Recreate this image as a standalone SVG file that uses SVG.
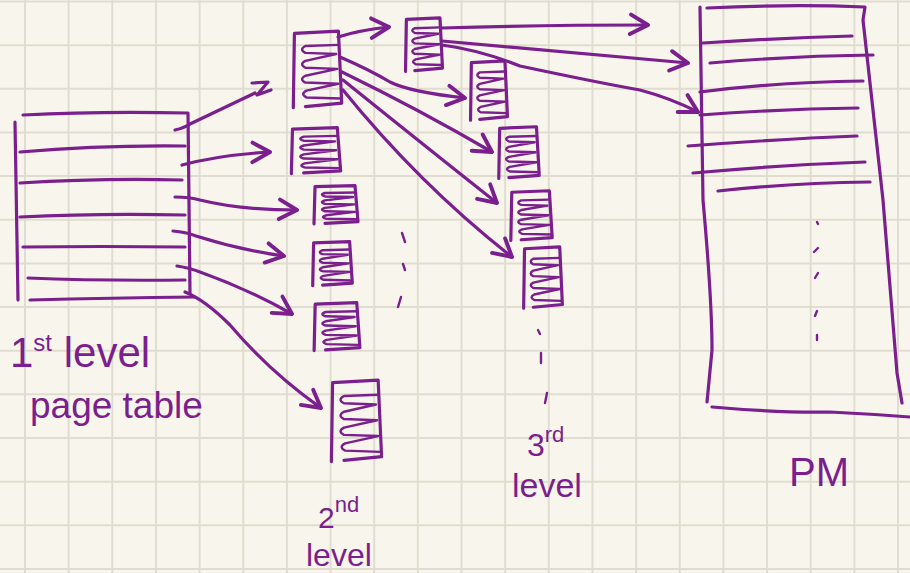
<svg xmlns="http://www.w3.org/2000/svg" xmlns:xlink="http://www.w3.org/1999/xlink" width="910" height="573" viewBox="0 0 910 573">
<style>
.pen{fill:none;stroke:#7b1f8e;stroke-width:3.2;stroke-linecap:round;stroke-linejoin:round}
.thin{fill:none;stroke:#7b1f8e;stroke-width:2.4;stroke-linecap:round;stroke-linejoin:round}
.grid{fill:none;stroke:#e0ddd0;stroke-width:2}
.lbl{font-family:"Liberation Sans",Arial,sans-serif;fill:#7b1f8e}
</style>
<defs>
<marker id="ah" markerUnits="userSpaceOnUse" markerWidth="26" markerHeight="26" viewBox="0 0 20 20" refX="17" refY="10" orient="auto">
<path d="M4,2 L17,10 L3,17" fill="none" stroke="#7b1f8e" stroke-width="3" stroke-linecap="round" stroke-linejoin="round"/>
</marker>
<symbol id="pg" viewBox="0 0 50 70" preserveAspectRatio="none" overflow="visible">
<path class="pen" vector-effect="non-scaling-stroke" d="M4,4 L3,68 M4,3 L44,1 L47,64 M14,67 L47,64"/>
<path class="thin" vector-effect="non-scaling-stroke" d="M44,13 L14,14 Q8,17 14,20 L42,21 L14,27 Q8,30 14,33 L43,34 L14,40 Q8,43 14,46 L44,47 L15,53 Q9,56 15,59 L46,60"/>
</symbol>
</defs>
<rect width="910" height="573" fill="#f8f6ec"/>
<path class="grid" d="M25,0V573M68.65,0V573M112.3,0V573M155.95,0V573M199.6,0V573M243.25,0V573M286.9,0V573M330.55,0V573M374.2,0V573M417.85,0V573M461.5,0V573M505.15,0V573M548.8,0V573M592.45,0V573M636.1,0V573M679.75,0V573M723.4,0V573M767.05,0V573M810.7,0V573M854.35,0V573M898,0V573M0,1.5H910M0,45.15H910M0,88.8H910M0,132.45H910M0,176.1H910M0,219.75H910M0,263.4H910M0,307.05H910M0,350.7H910M0,394.35H910M0,438H910M0,481.65H910M0,525.3H910M0,568.95H910"/>

<g id="first-level-table">
<path class="pen" d="M23,115 Q100,111 188,113 L190,293 M15,122 L18,300 M20,152 Q100,145 185,146 M20,183 Q100,178 182,180 M20,217 Q100,213 185,215 M23,247 Q100,246 185,247 M28,278 Q100,281 185,280 M30,300 Q110,298 195,297"/>
<text class="lbl" x="10" y="367" font-size="42">1<tspan font-size="24" dy="-16">st</tspan><tspan dy="16"> level</tspan></text>
<text class="lbl" x="30" y="418" font-size="37">page table</text>
</g>

<g id="l2-page-1"><use xlink:href="#pg" x="290" y="30" width="55" height="80"/></g>
<g id="l2-page-2"><use xlink:href="#pg" x="288" y="127" width="56" height="48"/></g>
<g id="l2-page-3"><use xlink:href="#pg" x="311" y="185" width="50" height="40"/></g>
<g id="l2-page-4"><use xlink:href="#pg" x="310" y="241" width="45" height="46"/></g>
<g id="l2-page-5"><use xlink:href="#pg" x="311" y="302" width="52" height="50"/></g>
<g id="l2-page-6"><use xlink:href="#pg" x="328" y="379" width="57" height="85"/></g>
<g id="l2-dots"><path class="thin" d="M402,233 L405,242 M403,264 L405,270 M401,297 L398,307"/></g>
<g id="l2-label">
<text class="lbl" x="318" y="528" font-size="30">2<tspan font-size="22" dy="-16">nd</tspan></text>
<text class="lbl" x="306" y="566" font-size="32">level</text>
</g>

<g id="l3-page-1"><use xlink:href="#pg" x="403" y="17" width="42" height="56"/></g>
<g id="l3-page-2"><use xlink:href="#pg" x="468" y="60" width="42" height="62"/></g>
<g id="l3-page-3"><use xlink:href="#pg" x="496" y="126" width="46" height="54"/></g>
<g id="l3-page-4"><use xlink:href="#pg" x="508" y="190" width="47" height="52"/></g>
<g id="l3-page-5"><use xlink:href="#pg" x="521" y="246" width="44" height="64"/></g>
<g id="l3-dots"><path class="thin" d="M538,330 L540,334 M541,353 L541,363 M547,393 L545,403"/></g>
<g id="l3-label">
<text class="lbl" x="527" y="456" font-size="32">3<tspan font-size="22" dy="-14">rd</tspan></text>
<text class="lbl" x="512" y="497" font-size="34">level</text>
</g>

<g id="pm">
<path class="pen" d="M700,7 L703,200 Q712,300 712,350 L707,402 M707,8 Q790,4 865,7 L863,20 L883,200 L897,373 L902,403 M712,407 Q780,413 830,412 Q870,414 910,417"/>
<path class="pen" d="M703,43 Q780,38 852,36 M710,63 Q790,56 873,55 M700,92 Q780,82 863,81 M700,115 Q780,109 858,108 M688,146 Q780,139 857,136 M693,173 Q780,165 865,162 M718,191 Q790,183 870,182"/>
<path class="thin" d="M817,222 L818,224 M818,248 L814,252 M818,273 L815,278 M817,311 L815,316 M817,335 L817,340"/>
<text class="lbl" x="789" y="486" font-size="40">PM</text>
</g>

<g id="connectors">
<path class="pen" d="M175,130 Q184,128 190,124 L255,93 M252,83 L268,82 L257,95 L271,90"/>
<path class="pen" marker-end="url(#ah)" d="M182,165 Q220,155 270,152"/>
<path class="pen" marker-end="url(#ah)" d="M175,197 Q190,197 200,200 Q240,210 297,210"/>
<path class="pen" marker-end="url(#ah)" d="M173,231 Q186,232 196,236 Q240,250 284,256"/>
<path class="pen" marker-end="url(#ah)" d="M177,266 Q190,268 200,272 Q250,290 292,314"/>
<path class="pen" marker-end="url(#ah)" d="M185,292 Q205,300 230,325 Q270,372 321,408"/>
<path class="pen" marker-end="url(#ah)" d="M338,37 Q360,30 389,27"/>
<path class="pen" marker-end="url(#ah)" d="M340,57 Q370,70 390,82 Q410,92 465,98"/>
<path class="pen" marker-end="url(#ah)" d="M342,72 Q420,110 492,152"/>
<path class="pen" marker-end="url(#ah)" d="M343,80 Q430,150 497,203"/>
<path class="pen" marker-end="url(#ah)" d="M343,90 Q420,185 512,257"/>
<path class="pen" marker-end="url(#ah)" d="M442,28 Q540,25 648,25"/>
<path class="pen" marker-end="url(#ah)" d="M442,41 Q560,52 688,63"/>
<path class="pen" marker-end="url(#ah)" d="M442,45 Q480,50 520,66 Q600,83 640,90 Q670,98 698,112"/>
</g>
</svg>
